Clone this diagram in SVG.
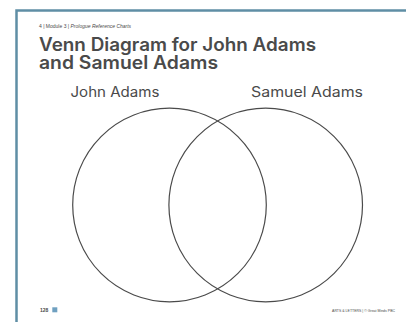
<svg xmlns="http://www.w3.org/2000/svg" width="406" height="322" viewBox="0 0 406 322">
<style>
.t{font-family:"Liberation Sans",Arial,sans-serif;fill:#4a4a4a}
.h{font-family:Inter,"Liberation Sans",sans-serif;font-weight:600;font-size:18px;fill:#4a4a4a}
.l{font-family:Inter,"Liberation Sans",sans-serif;font-weight:400;font-size:14px;fill:#4a4a4a}
.c{fill:none;stroke:#4a4a4a;stroke-width:1.2}
</style>
<rect width="406" height="322" fill="#fff"/>
<g id="frame"><path d="M16.5 322 V10.5 H406" fill="none" stroke="#5f8ea5" stroke-width="2.5"/></g>
<g id="header">
<text class="t" x="39" y="27.5" font-size="5">4 | Module 3 | <tspan font-style="italic">Prologue Reference Charts</tspan></text>
<text class="h" x="39" y="51" textLength="277" lengthAdjust="spacingAndGlyphs">Venn Diagram for John Adams</text>
<text class="h" x="39" y="68.5" textLength="179" lengthAdjust="spacingAndGlyphs">and Samuel Adams</text>
</g>
<g id="john"><circle class="c" cx="169.5" cy="205" r="96.8"/><text class="l" x="70.5" y="97" textLength="89" lengthAdjust="spacingAndGlyphs">John Adams</text></g>
<g id="samuel"><circle class="c" cx="265.7" cy="205" r="96.8"/><text class="l" x="251" y="97" textLength="112" lengthAdjust="spacingAndGlyphs">Samuel Adams</text></g>
<g id="footer">
<text class="t" x="40" y="312" font-size="5" font-weight="bold" fill="#222">128</text>
<rect x="52.3" y="307.3" width="5" height="5" fill="#6fa0c0"/>
<text class="t" x="395" y="312" font-size="3.5" text-anchor="end">ARTS &amp; LETTERS | © Great Minds PBC</text>
</g>
</svg>
